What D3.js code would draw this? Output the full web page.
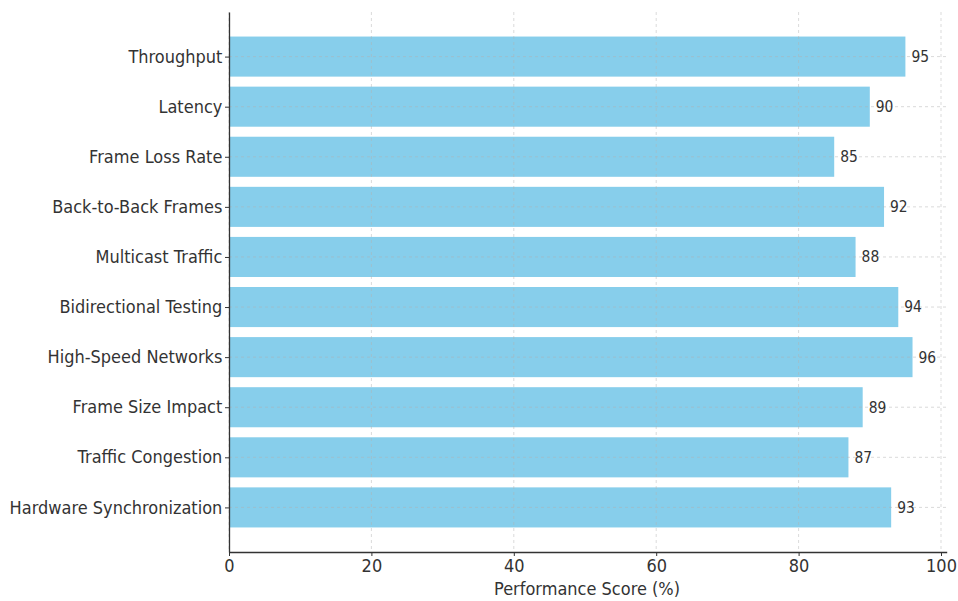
<!DOCTYPE html>
<html><head><meta charset="utf-8">
<script src="https://cdn.jsdelivr.net/npm/d3@7"></script>
<style>body{margin:0;background:#fff}svg{display:block}text{font-family:"DejaVu Sans",sans-serif}</style>
</head><body><svg id="c" width="958" height="601"></svg>
<script>
const categories = ["Throughput","Latency","Frame Loss Rate","Back-to-Back Frames","Multicast Traffic","Bidirectional Testing","High-Speed Networks","Frame Size Impact","Traffic Congestion","Hardware Synchronization"];
const scores = [95,90,85,92,88,94,96,89,87,93];
const xTicks = [0,20,40,60,80,100];
const xLabel = "Performance Score (%)";

const svg = d3.select("#c");
const L=229, R=946.7, T=12, B=552;
const SX = 0.925;
const x = d3.scaleLinear().domain([0,100.8]).range([L,R]);
const y = d3.scaleLinear().domain([9.89,-0.89]).range([B,T]);
const bh = y(0.4)-y(-0.4);

// bars
svg.append("g").selectAll("rect").data(scores).join("rect")
  .attr("x",x(0)).attr("y",(d,i)=>y(i)-bh/2)
  .attr("width",d=>x(d)-x(0)).attr("height",bh)
  .attr("fill","#87ceeb");

// grid
const g = svg.append("g").attr("stroke","#b0b0b0").attr("stroke-opacity",0.6).attr("stroke-width",0.8).attr("stroke-dasharray","3,3");
g.selectAll(".v").data(xTicks).join("line").attr("x1",d=>x(d)).attr("x2",d=>x(d)).attr("y1",T).attr("y2",B);
g.selectAll(".h").data(categories).join("line").attr("x1",L).attr("x2",R).attr("y1",(d,i)=>y(i)).attr("y2",(d,i)=>y(i));

// value labels
svg.append("g").selectAll("text").data(scores).join("text")
  .attr("transform",(d,i)=>`translate(${x(d)+6},${y(i)}) scale(${SX},1)`).attr("dy","0.36em")
  .attr("font-size",15).attr("fill","#333").text(d=>d);

// axes
const xa = svg.append("g").attr("transform",`translate(0,${B})`)
  .call(d3.axisBottom(x).tickValues(xTicks).tickSize(4).tickPadding(4).tickSizeOuter(0));
xa.select(".domain").attr("stroke","#333").attr("stroke-width",1.3);
xa.selectAll(".tick line").attr("stroke","#333");
xa.selectAll("text").attr("font-size",17.5).attr("fill","#333").attr("font-family","DejaVu Sans").attr("transform",`scale(${SX},1)`);

const ya = svg.append("g").attr("transform",`translate(${L},0)`)
  .call(d3.axisLeft(y).tickValues(d3.range(categories.length)).tickFormat(i=>categories[i]).tickSize(4).tickPadding(3.2).tickSizeOuter(0));
ya.select(".domain").attr("stroke","#333").attr("stroke-width",1.3);
ya.selectAll(".tick line").attr("stroke","#333");
ya.selectAll("text").attr("font-size",17.5).attr("fill","#333").attr("font-family","DejaVu Sans").attr("transform",`scale(${SX},1)`);

svg.append("text").attr("transform",`translate(${(x(0)+x(100))/2+2},595) scale(${SX},1)`).attr("text-anchor","middle")
  .attr("font-size",17.5).attr("fill","#333").text(xLabel);
</script></body></html>
